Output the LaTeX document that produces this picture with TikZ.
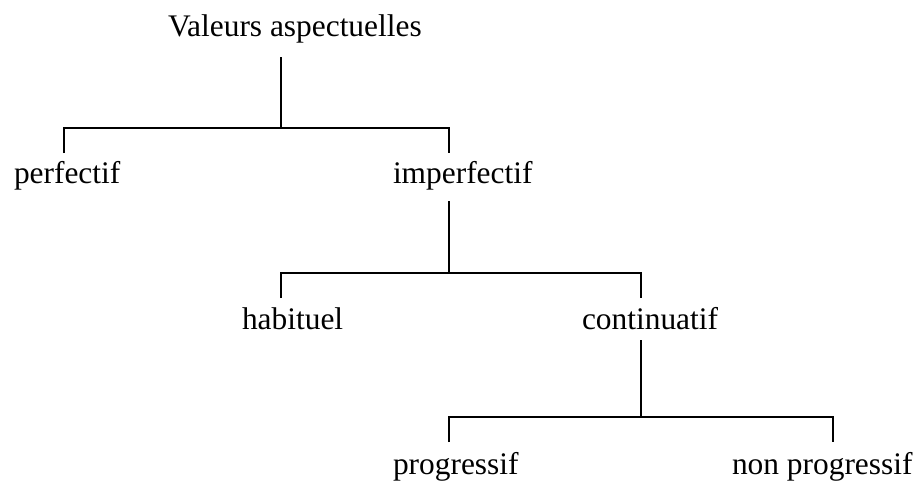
\documentclass[tikz,border=0pt]{standalone}
\usepackage{fontspec}
\setmainfont{Liberation Serif}
\begin{document}
\begin{tikzpicture}[x=1pt,y=-1pt,
  lbl/.style={anchor=base west,inner sep=0pt,outer sep=0pt,font=\fontsize{31.4}{36}\selectfont},
  conn/.style={line width=1.8pt,line join=miter,line cap=butt}]
\useasboundingbox (0,0) rectangle (923,483);
% labels
\node[lbl] (root) at (168,36) {Valeurs aspectuelles};
\node[lbl] (perf) at (14,183.3) {perfectif};
\node[lbl] (imperf) at (393,183.3) {imperfectif};
\node[lbl] (hab) at (242,329) {habituel};
\node[lbl] (cont) at (582,329) {continuatif};
\node[lbl] (prog) at (393,474.7) {progressif};
\node[lbl] (nprog) at (732,474.7) {non progressif};
% connector anchor points
\coordinate (r0) at (281,57);
\coordinate (r1) at (281,128);
\coordinate (p1) at (64,153);
\coordinate (i1) at (449,153);
\coordinate (i0) at (449,201);
\coordinate (i2) at (449,273);
\coordinate (h1) at (281,298);
\coordinate (c1) at (641,298);
\coordinate (c0) at (641,340);
\coordinate (c2) at (641,417);
\coordinate (g1) at (449,442);
\coordinate (n1) at (833,442);
% tree connectors
\draw[conn] (r0) -- (r1);
\draw[conn] (p1) -- (p1 |- r1) -- (i1 |- r1) -- (i1);
\draw[conn] (i0) -- (i2);
\draw[conn] (h1) -- (h1 |- i2) -- (c1 |- i2) -- (c1);
\draw[conn] (c0) -- (c2);
\draw[conn] (g1) -- (g1 |- c2) -- (n1 |- c2) -- (n1);
\end{tikzpicture}
\end{document}
